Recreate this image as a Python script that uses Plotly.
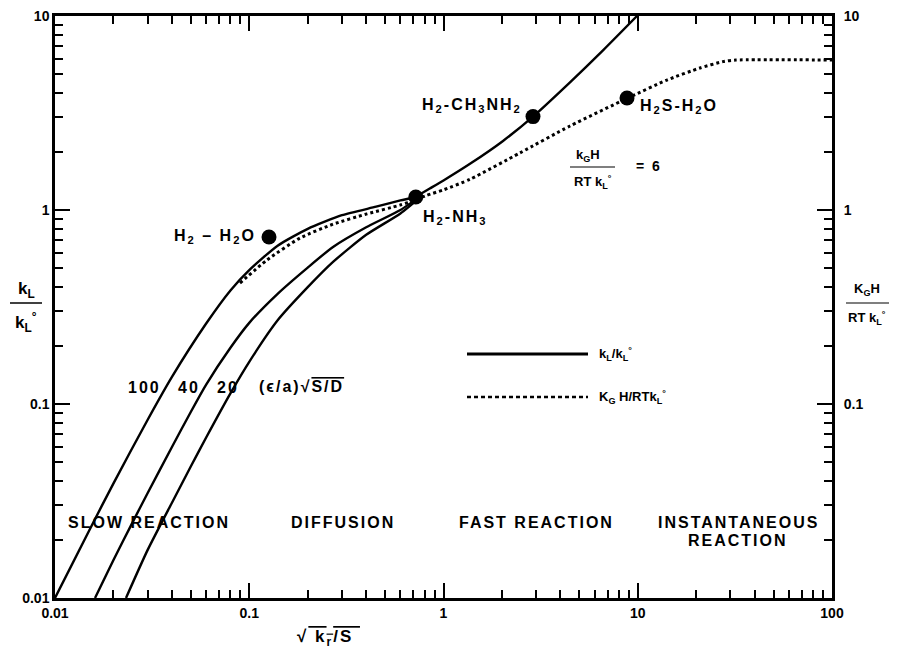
import plotly.graph_objects as go

# ---- data ----
curve100_x = [0.01, 0.015, 0.02, 0.03, 0.04, 0.06, 0.08, 0.1, 0.14, 0.2, 0.3, 0.45, 0.6, 0.72]
curve100_y = [0.01, 0.0223, 0.039, 0.083, 0.138, 0.26, 0.385, 0.49, 0.655, 0.80, 0.94, 1.04, 1.12, 1.167]

curve40_x = [0.01607, 0.02, 0.025, 0.03, 0.04, 0.05, 0.06, 0.08, 0.1, 0.14, 0.2, 0.27, 0.4, 0.6, 0.78]
curve40_y = [0.01, 0.0157, 0.0244, 0.0348, 0.06, 0.091, 0.126, 0.195, 0.262, 0.37, 0.505, 0.645, 0.815, 1.0, 1.20]

curve20_x = [0.0232, 0.03, 0.04, 0.05, 0.06, 0.08, 0.1, 0.14, 0.2, 0.27, 0.4, 0.6, 0.78]
curve20_y = [0.01, 0.0177, 0.031, 0.0476, 0.0672, 0.1135, 0.165, 0.27, 0.40, 0.54, 0.745, 0.96, 1.19]

common_x = [0.72, 0.85, 1.0, 1.369, 2.025, 2.889, 4.479, 6.624, 9.91]
common_y = [1.17, 1.29, 1.42, 1.73, 2.27, 3.03, 4.55, 6.65, 10.0]

dashed_x = [0.0896, 0.1234, 0.1825, 0.27, 0.4038, 0.5973, 0.72, 0.82, 1.0, 1.369, 2.476, 4.479, 8.805, 14.14, 20.92, 27.48, 32.0, 100]
dashed_y = [0.42, 0.5525, 0.7172, 0.845, 0.955, 1.06, 1.13, 1.19, 1.27, 1.44, 1.97, 2.71, 3.76, 4.677, 5.395, 5.82, 5.93, 5.93]

dots_x = [0.1264, 0.72, 2.889, 8.805]
dots_y = [0.726, 1.167, 3.03, 3.78]

x_ticks = [0.01, 0.1, 1, 10, 100]
x_ticktext = ["0.01", "0.1", "1", "10", "100"]
y_ticks = [0.01, 0.1, 1, 10]
y_ticktext = ["0.01", "0.1", "1", "10"]
y2_ticks = [0.1, 1, 10]
y2_ticktext = ["0.1", "1", "10"]

x_minor = [m * 10 ** k for k in (-2, -1, 0, 1) for m in range(2, 10)]
y_minor = [m * 10 ** k for k in (-2, -1, 0) for m in range(2, 10)]

# ---- figure ----
W, H = 900, 656
L, R, T, B = 55, 68, 16, 58
PW, PH = W - L - R, H - T - B


def px(x):
    return (x - L) / PW


def py(y):
    return (H - B - y) / PH


FONT = "Liberation Sans, Arial, Helvetica, sans-serif"
fig = go.Figure()

line_style = dict(color="black", width=2.4, shape="spline", smoothing=0.6)
for xs, ys in [(curve100_x, curve100_y), (curve40_x, curve40_y), (curve20_x, curve20_y), (common_x, common_y)]:
    fig.add_trace(go.Scatter(x=xs, y=ys, mode="lines", line=line_style, hoverinfo="skip"))

fig.add_trace(go.Scatter(x=dashed_x, y=dashed_y, mode="lines",
                         line=dict(color="black", width=3, dash="3px,3px", shape="spline", smoothing=0.6),
                         hoverinfo="skip"))

fig.add_trace(go.Scatter(x=dots_x, y=dots_y, mode="markers",
                         marker=dict(color="black", size=15), hoverinfo="skip"))

# invisible trace to activate the right axis
fig.add_trace(go.Scatter(x=[1], y=[1], yaxis="y2", mode="markers", marker=dict(opacity=0), hoverinfo="skip"))

tickfont = dict(family=FONT, size=14, color="black")
fig.update_layout(
    width=W, height=H,
    margin=dict(l=L, r=R, t=T, b=B, autoexpand=False),
    paper_bgcolor="white", plot_bgcolor="white",
    showlegend=False,
    xaxis=dict(type="log", range=[-2, 2], showgrid=False, zeroline=False, automargin=False,
               showline=True, linecolor="black", linewidth=2.5, mirror="ticks",
               ticks="inside", ticklen=15, tickwidth=2, tickcolor="black",
               tickmode="array", tickvals=x_ticks, ticktext=["<b>%s</b>" % t for t in x_ticktext],
               tickfont=tickfont,
               minor=dict(ticks="inside", ticklen=8, tickwidth=1.5, tickcolor="black",
                          tickmode="array", tickvals=x_minor, showgrid=False)),
    yaxis=dict(type="log", range=[-2, 1], showgrid=False, zeroline=False, automargin=False,
               showline=True, linecolor="black", linewidth=2.5, mirror="ticks",
               ticks="inside", ticklen=15, tickwidth=2, tickcolor="black",
               tickmode="array", tickvals=y_ticks, ticktext=["<b>%s</b>" % t for t in y_ticktext],
               tickfont=tickfont,
               minor=dict(ticks="inside", ticklen=8, tickwidth=1.5, tickcolor="black",
                          tickmode="array", tickvals=y_minor, showgrid=False)),
    yaxis2=dict(type="log", range=[-2, 1], overlaying="y", side="right", showgrid=False,
                zeroline=False, showline=False, automargin=False,
                ticks="outside", ticklen=8, tickcolor="rgba(0,0,0,0)",
                tickmode="array", tickvals=y2_ticks, ticktext=["<b>%s</b>" % t for t in y2_ticktext],
                tickfont=tickfont),
)

ann = []


def add_text(text, x, y, size=16, xanchor="center", yanchor="middle"):
    ann.append(dict(text=text, x=px(x), y=py(y), xref="paper", yref="paper",
                    xanchor=xanchor, yanchor=yanchor, showarrow=False,
                    font=dict(family=FONT, size=size, color="black")))


sp = "<span style='letter-spacing:2px'>%s</span>"

# point labels
add_text(sp % "<b>H<sub>2</sub> – H<sub>2</sub>O</b>", 258, 236, xanchor="right")
add_text(sp % "<b>H<sub>2</sub>-NH<sub>3</sub></b>", 421, 217, xanchor="left")
add_text(sp % "<b>H<sub>2</sub>-CH<sub>3</sub>NH<sub>2</sub></b>", 524, 105, xanchor="right")
add_text(sp % "<b>H<sub>2</sub>S-H<sub>2</sub>O</b>", 638, 106, xanchor="left")

# parameter fraction kGH/RTkL = 6
add_text("<b>k<sub>G</sub>H</b>", 588, 155, size=13)
add_text("<b>RT k<sub>L</sub><sup>°</sup></b>", 593, 182, size=13)
add_text("<b>=  6</b>", 648, 166, size=14)

# curve parameter labels
add_text(sp % "<b>100</b>", 144, 388)
add_text(sp % "<b>40</b>", 189, 388)
add_text(sp % "<b>20</b>", 228, 388)
add_text(sp % "<b>(ϵ/a)√<span style='text-decoration:overline'>S/D</span></b>", 257, 386, xanchor="left")

# regime labels
add_text(sp % "<b>SLOW REACTION</b>", 149, 522)
add_text(sp % "<b>DIFFUSION</b>", 343, 522)
add_text(sp % "<b>FAST REACTION</b>", 536, 522)
add_text(sp % "<b>INSTANTANEOUS</b>", 738, 522)
add_text(sp % "<b>REACTION</b>", 738, 540)

# legend texts
add_text("<b>k<sub>L</sub>/k<sub>L</sub><sup>°</sup></b>", 597, 354, size=13, xanchor="left")
add_text("<b>K<sub>G</sub> H/RTk<sub>L</sub><sup>°</sup></b>", 597, 397, size=13, xanchor="left")

# left axis title
add_text("<b>k<sub>L</sub></b>", 26, 290, size=17)
add_text("<b>k<sub>L</sub><sup>°</sup></b>", 26, 322, size=17)
# right axis title
add_text("<b>K<sub>G</sub>H</b>", 867, 289, size=13)
add_text("<b>RT k<sub>L</sub><sup>°</sup></b>", 867, 318, size=13)
# x axis title
add_text(sp % "<b>√<span style='text-decoration:overline'> k<sub>r</sub>/S </span></b>", 328, 638, size=17)

fig.update_layout(annotations=ann)

shapes = []
# fraction bars
shapes.append(dict(type="line", xref="paper", yref="paper", x0=px(570), x1=px(615), y0=py(167), y1=py(167),
                   line=dict(color="black", width=1.2)))
shapes.append(dict(type="line", xref="paper", yref="paper", x0=px(10), x1=px(42), y0=py(303), y1=py(303),
                   line=dict(color="black", width=1.5)))
shapes.append(dict(type="line", xref="paper", yref="paper", x0=px(846), x1=px(889), y0=py(303), y1=py(303),
                   line=dict(color="black", width=1.2)))
# legend samples
shapes.append(dict(type="line", xref="paper", yref="paper", x0=px(467), x1=px(588), y0=py(354), y1=py(354),
                   line=dict(color="black", width=3)))
shapes.append(dict(type="line", xref="paper", yref="paper", x0=px(467), x1=px(588), y0=py(397), y1=py(397),
                   line=dict(color="black", width=2.5, dash="4px,3px")))
fig.update_layout(shapes=shapes)

fig.write_html("out.html", config={"displayModeBar": False},
               post_script="document.body.style.margin='0';")
